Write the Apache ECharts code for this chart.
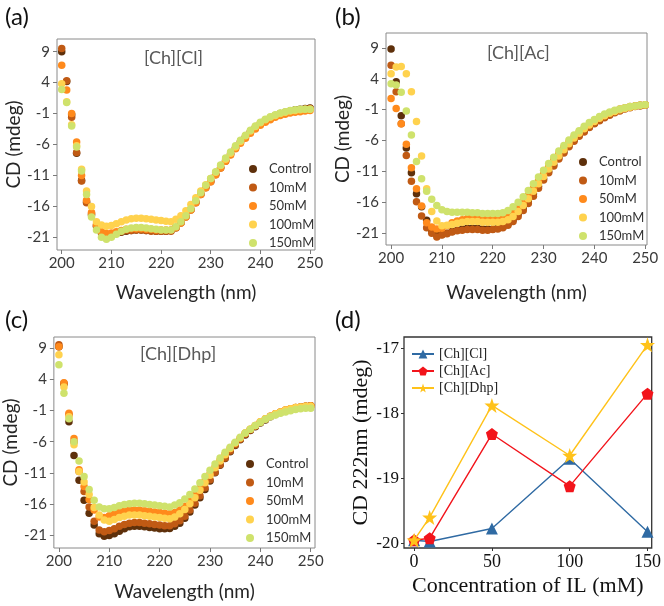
<!DOCTYPE html>
<html><head><meta charset="utf-8">
<script src="https://cdn.jsdelivr.net/npm/echarts@6/dist/echarts.min.js"></script>
<style>html,body{margin:0;padding:0;background:#fff}#c{width:664px;height:606px}</style>
</head><body><div id="c"></div>
<script>
// ---------- DATA ----------
const wavelengths = [200,201,202,203,204,205,206,207,208,209,210,211,212,213,214,215,216,217,218,219,220,221,222,223,224,225,226,227,228,229,230,231,232,233,234,235,236,237,238,239,240,241,242,243,244,245,246,247,248,249,250];
const seriesNames = ['Control','10mM','50mM','100mM','150mM'];
const cdTicks = [9,4,-1,-6,-11,-16,-21];
const wlTicks = [200,210,220,230,240,250];

// (a) [Ch][Cl]
const clControl = [9.0,4.2,-1.2,-7.4,-11.8,-15.3,-17.4,-19.2,-20.3,-20.6,
 -20.6,-20.4,-20.2,-20.0,-19.9,-19.8,-19.8,-19.9,-19.9,-20.0,
 -20.0,-20.0,-19.9,-19.4,-18.6,-17.6,-16.5,-15.3,-14.0,-12.9,
 -11.9,-10.8,-9.7,-8.6,-7.5,-6.5,-5.5,-4.7,-3.9,-3.2,
 -2.6,-2.1,-1.7,-1.3,-1.0,-0.8,-0.6,-0.4,-0.3,-0.2,-0.1];
const cl10 = [9.5,4.3,-1.6,-7.3,-11.9,-15.4,-17.2,-19.0,-20.2,-20.5,
 -20.5,-20.3,-20.1,-19.9,-19.9,-19.8,-19.8,-19.9,-20.0,-20.0,
 -20.0,-20.0,-20.0,-19.5,-18.7,-17.7,-16.6,-15.4,-14.1,-13.0,
 -12.0,-10.9,-9.8,-8.7,-7.6,-6.6,-5.6,-4.8,-4.0,-3.3,
 -2.7,-2.2,-1.8,-1.4,-1.1,-0.9,-0.7,-0.5,-0.4,-0.3,-0.2];
const cl50 = [6.8,2.8,-1.0,-5.6,-11.0,-15.0,-17.0,-19.0,-20.1,-20.4,
 -20.3,-20.1,-19.9,-19.7,-19.6,-19.6,-19.6,-19.7,-19.7,-19.8,
 -19.8,-19.8,-19.8,-19.4,-18.7,-17.7,-16.6,-15.4,-14.1,-13.0,
 -12.0,-10.9,-9.8,-8.7,-7.7,-6.7,-5.8,-5.0,-4.2,-3.5,
 -2.9,-2.4,-2.0,-1.6,-1.3,-1.1,-0.9,-0.8,-0.7,-0.6,-0.5];
const cl100 = [3.8,0.9,-2.8,-6.2,-10.0,-13.5,-16.0,-18.5,-19.0,-19.2,
 -19.1,-18.8,-18.5,-18.2,-18.0,-17.9,-17.9,-18.0,-18.1,-18.2,
 -18.3,-18.4,-18.5,-18.1,-17.5,-16.7,-15.7,-14.6,-13.5,-12.5,
 -11.5,-10.5,-9.4,-8.4,-7.4,-6.4,-5.5,-4.6,-3.8,-3.1,
 -2.5,-2.0,-1.6,-1.3,-1.0,-0.8,-0.6,-0.5,-0.4,-0.3,-0.3];
const cl150 = [2.9,0.8,-3.0,-6.4,-10.3,-14.1,-17.7,-19.8,-21.0,-21.3,
 -21.0,-20.5,-20.0,-19.7,-19.5,-19.4,-19.4,-19.5,-19.6,-19.7,
 -19.8,-19.8,-19.8,-19.3,-18.5,-17.5,-16.4,-15.1,-13.8,-12.6,
 -11.5,-10.4,-9.3,-8.2,-7.2,-6.2,-5.3,-4.5,-3.7,-3.0,
 -2.4,-1.9,-1.5,-1.2,-0.9,-0.7,-0.5,-0.4,-0.3,-0.3,-0.3];

// (b) [Ch][Ac]
const acControl = [8.8,3.5,-2.0,-7.2,-11.2,-14.6,-16.7,-18.9,-20.6,-21.3,
 -21.2,-21.0,-20.7,-20.5,-20.3,-20.2,-20.2,-20.2,-20.3,-20.3,
 -20.3,-20.2,-20.0,-19.5,-18.8,-17.9,-16.9,-15.8,-14.6,-13.4,
 -12.2,-11.0,-9.9,-8.8,-7.8,-6.8,-5.9,-5.1,-4.4,-3.8,
 -3.2,-2.7,-2.2,-1.8,-1.4,-1.1,-0.8,-0.6,-0.4,-0.3,-0.2];
const ac10 = [6.2,1.9,-3.3,-8.4,-12.6,-15.9,-18.2,-20.1,-21.0,-21.6,
 -21.3,-21.1,-20.8,-20.6,-20.5,-20.4,-20.4,-20.4,-20.5,-20.5,
 -20.4,-20.3,-20.1,-19.7,-19.1,-18.3,-17.3,-16.2,-15.0,-13.7,
 -12.4,-11.2,-10.1,-9.0,-8.0,-7.0,-6.1,-5.3,-4.6,-3.9,
 -3.3,-2.8,-2.3,-1.9,-1.5,-1.2,-0.9,-0.7,-0.5,-0.4,-0.3];
const ac50 = [0.8,-0.8,-3.3,-6.6,-10.4,-13.8,-16.6,-19.3,-20.0,-20.3,
 -20.2,-19.8,-19.3,-19.0,-18.8,-18.6,-18.5,-18.5,-18.6,-18.6,
 -18.6,-18.5,-18.3,-18.0,-17.5,-16.8,-15.9,-14.9,-13.7,-12.5,
 -11.3,-10.2,-9.1,-8.1,-7.1,-6.2,-5.4,-4.6,-4.0,-3.4,
 -2.8,-2.3,-1.9,-1.5,-1.2,-0.9,-0.7,-0.5,-0.4,-0.3,-0.2];
const ac100 = [4.8,5.9,6.0,4.8,1.9,-2.9,-8.5,-13.8,-17.5,-19.0,
 -19.8,-19.7,-19.6,-19.4,-19.2,-19.1,-19.1,-19.1,-19.2,-19.2,
 -19.2,-19.2,-19.1,-18.8,-18.3,-17.5,-16.5,-15.4,-14.2,-13.0,
 -11.8,-10.6,-9.5,-8.5,-7.5,-6.5,-5.6,-4.8,-4.1,-3.5,
 -2.9,-2.4,-2.0,-1.6,-1.3,-1.0,-0.8,-0.6,-0.4,-0.3,-0.2];
const ac150 = [3.2,3.0,1.8,-1.2,-5.1,-9.4,-12.2,-14.2,-15.5,-16.5,
 -17.2,-17.5,-17.6,-17.6,-17.6,-17.6,-17.7,-17.7,-17.8,-17.8,
 -17.8,-17.8,-17.7,-17.3,-16.7,-16.0,-15.1,-14.1,-13.0,-11.9,
 -10.8,-9.7,-8.7,-7.7,-6.8,-5.9,-5.1,-4.4,-3.7,-3.1,
 -2.6,-2.1,-1.7,-1.4,-1.1,-0.9,-0.7,-0.5,-0.4,-0.3,-0.2];

// (c) [Ch][Dhp]
const dhpControl = [9.3,3.3,-2.8,-8.2,-12.2,-15.4,-17.5,-19.4,-20.8,-21.2,
 -21.1,-20.8,-20.4,-20.0,-19.7,-19.6,-19.6,-19.7,-19.8,-19.9,
 -20.0,-20.0,-19.95,-19.6,-19.1,-18.3,-17.3,-16.2,-15.0,-13.7,
 -12.3,-11.0,-9.8,-8.7,-7.6,-6.6,-5.7,-4.9,-4.2,-3.6,
 -3.0,-2.5,-2.0,-1.6,-1.3,-1.0,-0.8,-0.6,-0.4,-0.3,-0.2];
const dhp10 = [9.6,3.4,-1.6,-6.0,-10.8,-14.0,-16.5,-18.8,-20.2,-20.5,
 -20.3,-20.0,-19.6,-19.3,-19.1,-19.0,-19.0,-19.1,-19.2,-19.3,
 -19.4,-19.5,-19.5,-19.2,-18.7,-18.0,-17.0,-15.9,-14.7,-13.4,
 -12.1,-10.9,-9.7,-8.6,-7.5,-6.5,-5.6,-4.8,-4.1,-3.5,
 -2.9,-2.4,-1.9,-1.5,-1.2,-0.9,-0.7,-0.5,-0.4,-0.3,-0.2];
const dhp50 = [9.3,3.5,-1.4,-5.5,-10.5,-13.2,-15.3,-17.0,-18.1,-18.2,
 -17.9,-17.6,-17.3,-17.1,-17.0,-17.0,-17.0,-17.1,-17.2,-17.3,
 -17.4,-17.5,-17.6,-17.4,-17.0,-16.4,-15.6,-14.6,-13.5,-12.3,
 -11.2,-10.1,-9.0,-8.0,-7.1,-6.2,-5.4,-4.6,-4.0,-3.4,
 -2.8,-2.3,-1.9,-1.5,-1.2,-0.9,-0.7,-0.5,-0.4,-0.3,-0.2];
const dhp100 = [8.0,2.8,-2.0,-6.5,-10.8,-12.5,-14.5,-16.6,-17.8,-18.6,
 -18.8,-18.5,-18.2,-18.0,-17.8,-17.8,-17.8,-17.9,-18.0,-18.1,
 -18.2,-18.3,-18.4,-18.1,-17.6,-16.9,-16.0,-15.0,-13.8,-12.6,
 -11.4,-10.2,-9.1,-8.1,-7.1,-6.2,-5.4,-4.6,-4.0,-3.4,
 -2.8,-2.3,-1.9,-1.5,-1.2,-0.9,-0.7,-0.5,-0.4,-0.3,-0.3];
const dhp150 = [6.4,1.8,-2.3,-6.0,-9.1,-11.6,-13.7,-15.4,-16.5,-16.8,
 -16.8,-16.6,-16.3,-16.1,-16.0,-15.9,-15.9,-16.0,-16.1,-16.2,
 -16.3,-16.4,-16.5,-16.2,-15.8,-15.2,-14.5,-13.6,-12.6,-11.6,
 -10.6,-9.6,-8.6,-7.7,-6.9,-6.1,-5.3,-4.6,-4.0,-3.4,
 -2.9,-2.4,-2.0,-1.7,-1.4,-1.2,-1.0,-0.8,-0.7,-0.6,-0.6];

// (d) CD at 222 nm
const concentrations = [0,10,50,100,150];
const concTicks = [0,50,100,150];
const cd222Ticks = [-20,-19,-18,-17];
const ilNames = ['[Ch][Cl]','[Ch][Ac]','[Ch][Dhp]'];
const cd222Cl = [-19.95,-19.97,-19.77,-18.70,-19.82];
const cd222Ac = [-19.95,-19.92,-18.32,-19.12,-17.70];
const cd222Dhp = [-19.95,-19.60,-17.88,-18.65,-16.95];

// ---------- STYLE ----------
const dotColors = ['#5e300b','#c05a14','#ff8a1c','#ffd24e','#cfe26c'];
const ilColors = ['#2f6aa3','#f2141b','#ffc21a'];
const sans = 'Lato';
const serif = 'Liberation Serif';

const panels = [
  {grid:{left:57,top:39,width:258,height:211}, x:[199.05,251.0], y:[-23.05,11.05], data:[clControl,cl10,cl50,cl100,cl150], yGap:26, xGap:33, legend:{left:244,top:157}},
  {grid:{left:386,top:33,width:261,height:212}, x:[199.0,250.35], y:[-22.9,11.4], data:[acControl,ac10,ac50,ac100,ac150], yGap:30, xGap:38, legend:{left:574,top:150}},
  {grid:{left:52,top:337,width:263,height:211}, x:[199.0,250.85], y:[-23.1,10.85], data:[dhpControl,dhp10,dhp50,dhp100,dhp150], yGap:24, xGap:34, legend:{left:241,top:452}}
];

const grids = [], xAxes = [], yAxes = [], series = [], legends = [];
panels.forEach((p, i) => {
  grids.push(Object.assign({show:true, borderColor:'#8a8a8a', borderWidth:1, backgroundColor:'transparent'}, p.grid));
  xAxes.push({type:'value', gridIndex:i, min:p.x[0], max:p.x[1], position:'bottom',
    name:'Wavelength (nm)', nameLocation:'middle', nameGap:p.xGap,
    nameTextStyle:{fontFamily:sans, fontSize:19, color:'#262626'},
    axisLine:{show:false, onZero:false}, splitLine:{show:false},
    axisTick:{show:true, inside:false, length:4, lineStyle:{color:'#7a7a7a'}, customValues:wlTicks},
    axisLabel:{fontFamily:sans, fontSize:15, color:'#3a3a3a', margin:6, customValues:wlTicks}});
  yAxes.push({type:'value', gridIndex:i, min:p.y[0], max:p.y[1], position:'left',
    name:'CD (mdeg)', nameLocation:'middle', nameGap:p.yGap,
    nameTextStyle:{fontFamily:sans, fontSize:19, color:'#262626'},
    axisLine:{show:false, onZero:false}, splitLine:{show:false},
    axisTick:{show:true, inside:false, length:4, lineStyle:{color:'#7a7a7a'}, customValues:cdTicks},
    axisLabel:{fontFamily:sans, fontSize:15, color:'#3a3a3a', margin:7, customValues:cdTicks}});
  p.data.forEach((vals, k) => {
    series.push({type:'scatter', name:seriesNames[k], xAxisIndex:i, yAxisIndex:i,
      symbol:'circle', symbolSize:7.5, itemStyle:{color:dotColors[k], opacity:1},
      data: wavelengths.map((w, j) => [w, vals[j]]), z:2+k});
  });
  legends.push({orient:'vertical', left:p.legend.left, top:p.legend.top, data:seriesNames,
    icon:'circle', itemWidth:22, itemHeight:8, itemGap:4.5,
    textStyle:{fontFamily:sans, fontSize:13, color:'#333', lineHeight:14}, selectedMode:false});
});

// panel (d)
grids.push({show:true, left:404, top:337, width:251, height:211, borderColor:'#333', borderWidth:1.3, backgroundColor:'transparent'});
xAxes.push({type:'value', gridIndex:3, min:-6.5, max:152.7, position:'bottom',
  name:'Concentration of IL (mM)', nameLocation:'middle', nameGap:27,
  nameTextStyle:{fontFamily:serif, fontSize:22, color:'#111'},
  axisLine:{show:false, onZero:false}, splitLine:{show:false},
  axisTick:{show:true, length:3, lineStyle:{color:'#333'}, customValues:concTicks},
  axisLabel:{fontFamily:serif, fontSize:18, color:'#111', margin:5, customValues:concTicks}});
yAxes.push({type:'value', gridIndex:3, min:-20.07, max:-16.83, position:'left',
  name:'CD 222nm (mdeg)', nameLocation:'middle', nameGap:30,
  nameTextStyle:{fontFamily:serif, fontSize:22, color:'#111'},
  axisLine:{show:false, onZero:false}, splitLine:{show:false},
  axisTick:{show:true, length:3, lineStyle:{color:'#333'}, customValues:cd222Ticks},
  axisLabel:{fontFamily:serif, fontSize:17, color:'#111', margin:5, customValues:cd222Ticks}});
const pentagon = 'path://M0,-10 L9.51,-3.09 L5.88,8.09 L-5.88,8.09 L-9.51,-3.09 Z';
const star = 'path://M0,-10 L2.35,-3.24 L9.51,-3.09 L3.8,1.24 L5.88,8.09 L0,4 L-5.88,8.09 L-3.8,1.24 L-9.51,-3.09 L-2.35,-3.24 Z';
const ilData = [cd222Cl, cd222Ac, cd222Dhp];
const ilSymbols = ['triangle', pentagon, star];
const ilSizes = [12, 12, 15];
ilData.forEach((vals, k) => {
  series.push({type:'line', name:ilNames[k], xAxisIndex:3, yAxisIndex:3,
    symbol:ilSymbols[k], symbolSize:ilSizes[k], showAllSymbol:true,
    lineStyle:{color:ilColors[k], width:1.4}, itemStyle:{color:ilColors[k]},
    data: concentrations.map((c, j) => [c, vals[j]]), z:5+k});
});
legends.push({orient:'vertical', left:406, top:342, data:ilNames,
  itemWidth:22, itemHeight:11, itemGap:3, selectedMode:false,
  textStyle:{fontFamily:serif, fontSize:14, color:'#222', lineHeight:14}});

const labelStyle = {fontFamily:sans, fontSize:24, fill:'#111'};
const subStyle = {fontFamily:sans, fontSize:18, fill:'#595959'};
const graphics = [
  {type:'text', left:5, top:5, style:Object.assign({text:'(a)'}, labelStyle)},
  {type:'text', left:335, top:5, style:Object.assign({text:'(b)'}, labelStyle)},
  {type:'text', left:5, top:308, style:Object.assign({text:'(c)'}, labelStyle)},
  {type:'text', left:335, top:308, style:Object.assign({text:'(d)'}, labelStyle)},
  {type:'text', left:144, top:49, style:Object.assign({text:'[Ch][Cl]'}, subStyle)},
  {type:'text', left:487, top:44, style:Object.assign({text:'[Ch][Ac]'}, subStyle)},
  {type:'text', left:140, top:345, style:Object.assign({text:'[Ch][Dhp]'}, subStyle)}
];

const chart = echarts.init(document.getElementById('c'), null, {renderer:'canvas'});
chart.setOption({
  backgroundColor:'#fff', animation:false,
  textStyle:{fontFamily:sans},
  grid:grids, xAxis:xAxes, yAxis:yAxes, series:series, legend:legends, graphic:graphics
});
</script></body></html>
